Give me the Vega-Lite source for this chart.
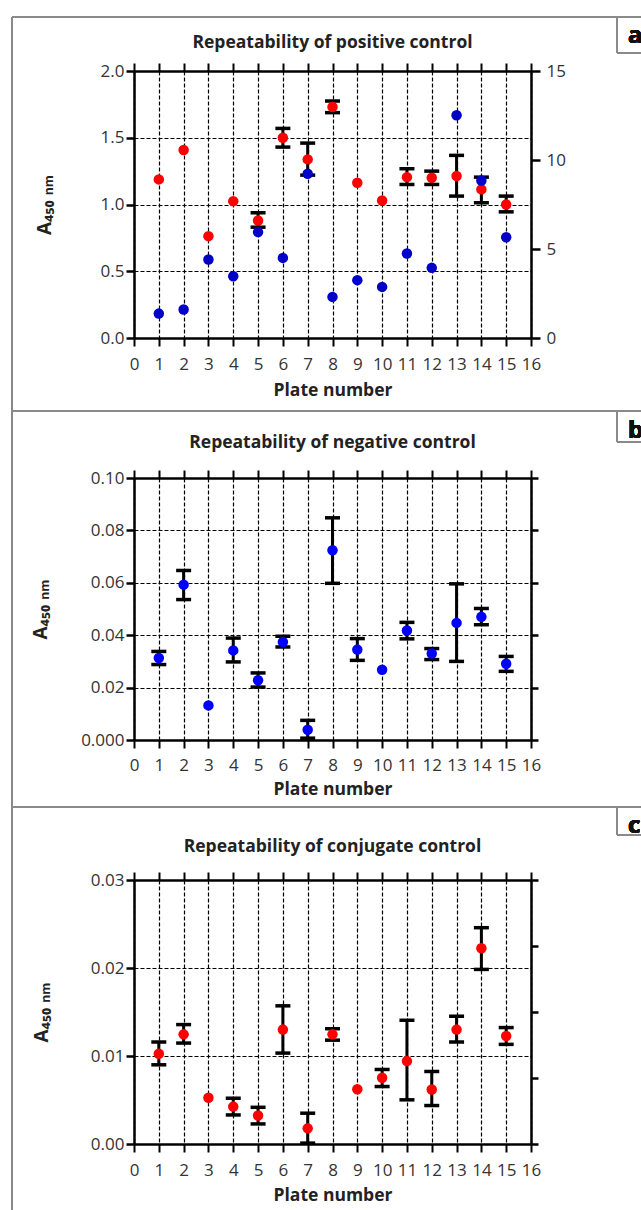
{
  "$schema": "https://vega.github.io/schema/vega-lite/v6.json",
  "background": "white",
  "padding": {"left": 10, "top": 15, "right": 0, "bottom": 0},
  "bounds": "flush",
  "spacing": 140,
  "config": {
    "view": {"stroke": null},
    "axis": {
      "domainColor": "black", "domainWidth": 2.5, "tickColor": "black", "tickWidth": 2.5, "tickSize": 8,
      "labelFont": "Open Sans", "labelFontSize": 17, "labelColor": "#333", "labelFlush": false, "labelOverlap": false,
      "gridColor": "black", "gridDash": [4, 2], "gridWidth": 1.2, "gridOpacity": 1,
      "titleFont": "Open Sans, DejaVu Sans", "titleFontSize": 17.5, "titleFontWeight": "bold", "titleColor": "#222"
    },
    "title": {"font": "Open Sans", "fontSize": 17.5, "fontWeight": "bold", "color": "#222", "frame": "group", "anchor": "middle"},
    "tick": {"opacity": 1}
  },
  "vconcat": [
    {
      "width": 397, "height": 267,
      "title": {"text": "Repeatability of positive control", "offset": -36},
      "data": {"values": [
        {"plate": 1, "mean": 1.188, "lo": null, "hi": null, "blue": 1.37},
        {"plate": 2, "mean": 1.408, "lo": null, "hi": null, "blue": 1.60},
        {"plate": 3, "mean": 0.763, "lo": null, "hi": null, "blue": 4.41},
        {"plate": 4, "mean": 1.025, "lo": null, "hi": null, "blue": 3.47},
        {"plate": 5, "mean": 0.88, "lo": 0.83, "hi": 0.938, "blue": 5.95},
        {"plate": 6, "mean": 1.50, "lo": 1.43, "hi": 1.57, "blue": 4.50},
        {"plate": 7, "mean": 1.338, "lo": 1.22, "hi": 1.46, "blue": 9.23},
        {"plate": 8, "mean": 1.73, "lo": 1.688, "hi": 1.775, "blue": 2.31},
        {"plate": 9, "mean": 1.163, "lo": null, "hi": null, "blue": 3.25},
        {"plate": 10, "mean": 1.03, "lo": null, "hi": null, "blue": 2.87},
        {"plate": 11, "mean": 1.205, "lo": 1.15, "hi": 1.268, "blue": 4.75},
        {"plate": 12, "mean": 1.20, "lo": 1.15, "hi": 1.25, "blue": 3.94},
        {"plate": 13, "mean": 1.213, "lo": 1.063, "hi": 1.368, "blue": 12.51},
        {"plate": 14, "mean": 1.113, "lo": 1.013, "hi": 1.205, "blue": 8.85},
        {"plate": 15, "mean": 1.0, "lo": 0.945, "hi": 1.063, "blue": 5.66}
      ]},
      "resolve": {"scale": {"x": "independent", "y": "independent"}, "axis": {"x": "independent", "y": "independent"}},
      "layer": [
        {"mark": {"type": "rule", "color": "black", "strokeWidth": 3},
         "encoding": {
           "x": {"field": "plate", "type": "quantitative", "scale": {"domain": [0, 16], "nice": false},
                 "axis": {"orient": "bottom", "values": [0,1,2,3,4,5,6,7,8,9,10,11,12,13,14,15,16], "format": "d", "grid": true, "title": "Plate number", "labelPadding": 10, "titlePadding": 9, "tickWidth": 2}},
           "y": {"field": "lo", "type": "quantitative", "scale": {"domain": [0, 2], "nice": false},
                 "axis": {"orient": "left", "values": [0, 0.5, 1, 1.5, 2], "format": ".1f", "grid": true, "title": "A₄₅₀ ₙₘ", "titleFontSize": 19, "titlePadding": 46, "labelPadding": 2}},
           "y2": {"field": "hi"}}},
        {"mark": {"type": "tick", "orient": "horizontal", "size": 15, "thickness": 3.5, "color": "black", "opacity": 1},
         "encoding": {
           "x": {"field": "plate", "type": "quantitative", "scale": {"domain": [0, 16], "nice": false}, "axis": null},
           "y": {"field": "lo", "type": "quantitative", "scale": {"domain": [0, 2], "nice": false}, "axis": null}}},
        {"mark": {"type": "tick", "orient": "horizontal", "size": 15, "thickness": 3.5, "color": "black", "opacity": 1},
         "encoding": {
           "x": {"field": "plate", "type": "quantitative", "scale": {"domain": [0, 16], "nice": false}, "axis": null},
           "y": {"field": "hi", "type": "quantitative", "scale": {"domain": [0, 2], "nice": false}, "axis": null}}},
        {"mark": {"type": "point", "filled": true, "size": 110, "color": "#ff0000", "opacity": 1},
         "encoding": {
           "x": {"field": "plate", "type": "quantitative", "scale": {"domain": [0, 16], "nice": false}, "axis": null},
           "y": {"field": "mean", "type": "quantitative", "scale": {"domain": [0, 2], "nice": false}, "axis": null}}},
        {"mark": {"type": "point", "filled": true, "size": 110, "color": "#0000c8", "opacity": 1},
         "encoding": {
           "x": {"field": "plate", "type": "quantitative", "scale": {"domain": [0, 16], "nice": false},
                 "axis": {"orient": "top", "values": [0,1,2,3,4,5,6,7,8,9,10,11,12,13,14,15,16], "labels": false, "grid": false, "title": null, "tickWidth": 2}},
           "y": {"field": "blue", "type": "quantitative", "scale": {"domain": [0, 15], "nice": false},
                 "axis": {"orient": "right", "values": [0, 5, 10, 15], "format": "d", "grid": false, "title": null, "tickSize": 9, "labelPadding": 6}}}},
        {"mark": {"type": "rule", "color": "#8a8a8a", "strokeWidth": 2},
         "encoding": {
           "x": {"datum": -4.917, "type": "quantitative", "scale": {"domain": [0, 16], "nice": false}, "axis": null},
           "x2": {"datum": 20.43},
           "y": {"datum": 2.4045, "type": "quantitative", "scale": {"domain": [0, 2], "nice": false}, "axis": null}}},
        {"mark": {"type": "rule", "color": "#8a8a8a", "strokeWidth": 2},
         "encoding": {
           "x": {"datum": -4.917, "type": "quantitative", "scale": {"domain": [0, 16], "nice": false}, "axis": null},
           "y": {"datum": 2.4045, "type": "quantitative", "scale": {"domain": [0, 2], "nice": false}, "axis": null},
           "y2": {"datum": -0.5468}}},
        {"mark": {"type": "rule", "color": "#8a8a8a", "strokeWidth": 1.5},
         "encoding": {
           "x": {"datum": 19.466, "type": "quantitative", "scale": {"domain": [0, 16], "nice": false}, "axis": null},
           "y": {"datum": 2.4045, "type": "quantitative", "scale": {"domain": [0, 2], "nice": false}, "axis": null},
           "y2": {"datum": 2.1348}}},
        {"mark": {"type": "rule", "color": "#8a8a8a", "strokeWidth": 1.5},
         "encoding": {
           "x": {"datum": 19.466, "type": "quantitative", "scale": {"domain": [0, 16], "nice": false}, "axis": null},
           "x2": {"datum": 20.43},
           "y": {"datum": 2.1348, "type": "quantitative", "scale": {"domain": [0, 2], "nice": false}, "axis": null}}},
        {"mark": {"type": "text", "align": "left", "baseline": "middle", "font": "Open Sans", "fontSize": 24, "fontWeight": "bold", "color": "#111"},
         "encoding": {
           "x": {"datum": 19.91, "type": "quantitative", "scale": {"domain": [0, 16], "nice": false}, "axis": null},
           "y": {"datum": 2.262, "type": "quantitative", "scale": {"domain": [0, 2], "nice": false}, "axis": null},
           "text": {"datum": "a"}}}
      ]
    },
    {
      "width": 397, "height": 262,
      "title": {"text": "Repeatability of negative control", "offset": -41},
      "data": {"values": [
        {"plate": 1, "mean": 0.0313, "lo": 0.0288, "hi": 0.0338},
        {"plate": 2, "mean": 0.0593, "lo": 0.0536, "hi": 0.0647},
        {"plate": 3, "mean": 0.0132, "lo": null, "hi": null},
        {"plate": 4, "mean": 0.0342, "lo": 0.0298, "hi": 0.0389},
        {"plate": 5, "mean": 0.0228, "lo": 0.0202, "hi": 0.0256},
        {"plate": 6, "mean": 0.0374, "lo": 0.0355, "hi": 0.0396},
        {"plate": 7, "mean": 0.0039, "lo": 0.0007, "hi": 0.0075},
        {"plate": 8, "mean": 0.0724, "lo": 0.0598, "hi": 0.0848},
        {"plate": 9, "mean": 0.0345, "lo": 0.0304, "hi": 0.0387},
        {"plate": 10, "mean": 0.0268, "lo": null, "hi": null},
        {"plate": 11, "mean": 0.0418, "lo": 0.0386, "hi": 0.0449},
        {"plate": 12, "mean": 0.033, "lo": 0.0307, "hi": 0.0349},
        {"plate": 13, "mean": 0.0447, "lo": 0.030, "hi": 0.0596},
        {"plate": 14, "mean": 0.047, "lo": 0.044, "hi": 0.0502},
        {"plate": 15, "mean": 0.0291, "lo": 0.0262, "hi": 0.0319}
      ]},
      "resolve": {"scale": {"x": "independent", "y": "independent"}, "axis": {"x": "independent", "y": "independent"}},
      "layer": [
        {"mark": {"type": "rule", "color": "black", "strokeWidth": 3},
         "encoding": {
           "x": {"field": "plate", "type": "quantitative", "scale": {"domain": [0, 16], "nice": false},
                 "axis": {"orient": "bottom", "values": [0,1,2,3,4,5,6,7,8,9,10,11,12,13,14,15,16], "format": "d", "grid": true, "title": "Plate number", "labelPadding": 9, "titlePadding": 7, "tickWidth": 2}},
           "y": {"field": "lo", "type": "quantitative", "scale": {"domain": [0, 0.1], "nice": false},
                 "axis": {"orient": "left", "values": [0, 0.02, 0.04, 0.06, 0.08, 0.1], "labelExpr": "datum.value == 0 ? '0.000' : format(datum.value, '.2f')", "grid": true, "title": "A₄₅₀ ₙₘ", "titleFontSize": 19, "titlePadding": 30, "labelPadding": 2}},
           "y2": {"field": "hi"}}},
        {"mark": {"type": "tick", "orient": "horizontal", "size": 15, "thickness": 3.5, "color": "black", "opacity": 1},
         "encoding": {
           "x": {"field": "plate", "type": "quantitative", "scale": {"domain": [0, 16], "nice": false}, "axis": null},
           "y": {"field": "lo", "type": "quantitative", "scale": {"domain": [0, 0.1], "nice": false}, "axis": null}}},
        {"mark": {"type": "tick", "orient": "horizontal", "size": 15, "thickness": 3.5, "color": "black", "opacity": 1},
         "encoding": {
           "x": {"field": "plate", "type": "quantitative", "scale": {"domain": [0, 16], "nice": false}, "axis": null},
           "y": {"field": "hi", "type": "quantitative", "scale": {"domain": [0, 0.1], "nice": false}, "axis": null}}},
        {"mark": {"type": "point", "filled": true, "size": 110, "color": "#0000ff", "opacity": 1},
         "encoding": {
           "x": {"field": "plate", "type": "quantitative", "scale": {"domain": [0, 16], "nice": false},
                 "axis": {"orient": "top", "values": [0,1,2,3,4,5,6,7,8,9,10,11,12,13,14,15,16], "labels": false, "grid": false, "title": null, "tickWidth": 2}},
           "y": {"field": "mean", "type": "quantitative", "scale": {"domain": [0, 0.1], "nice": false},
                 "axis": {"orient": "right", "values": [0, 0.02, 0.04, 0.06, 0.08, 0.1], "labels": false, "grid": false, "title": null, "tickSize": 7}}}},
        {"mark": {"type": "rule", "color": "#8a8a8a", "strokeWidth": 2},
         "encoding": {
           "x": {"datum": -4.917, "type": "quantitative", "scale": {"domain": [0, 16], "nice": false}, "axis": null},
           "x2": {"datum": 20.43},
           "y": {"datum": 0.12557, "type": "quantitative", "scale": {"domain": [0, 0.1], "nice": false}, "axis": null}}},
        {"mark": {"type": "rule", "color": "#8a8a8a", "strokeWidth": 2},
         "encoding": {
           "x": {"datum": -4.917, "type": "quantitative", "scale": {"domain": [0, 16], "nice": false}, "axis": null},
           "y": {"datum": 0.12557, "type": "quantitative", "scale": {"domain": [0, 0.1], "nice": false}, "axis": null},
           "y2": {"datum": -0.02557}}},
        {"mark": {"type": "rule", "color": "#8a8a8a", "strokeWidth": 1.5},
         "encoding": {
           "x": {"datum": 19.466, "type": "quantitative", "scale": {"domain": [0, 16], "nice": false}, "axis": null},
           "y": {"datum": 0.12557, "type": "quantitative", "scale": {"domain": [0, 0.1], "nice": false}, "axis": null},
           "y2": {"datum": 0.11374}}},
        {"mark": {"type": "rule", "color": "#8a8a8a", "strokeWidth": 1.5},
         "encoding": {
           "x": {"datum": 19.466, "type": "quantitative", "scale": {"domain": [0, 16], "nice": false}, "axis": null},
           "x2": {"datum": 20.43},
           "y": {"datum": 0.11374, "type": "quantitative", "scale": {"domain": [0, 0.1], "nice": false}, "axis": null}}},
        {"mark": {"type": "text", "align": "left", "baseline": "middle", "font": "Open Sans", "fontSize": 24, "fontWeight": "bold", "color": "#111"},
         "encoding": {
           "x": {"datum": 19.91, "type": "quantitative", "scale": {"domain": [0, 16], "nice": false}, "axis": null},
           "y": {"datum": 0.11794, "type": "quantitative", "scale": {"domain": [0, 0.1], "nice": false}, "axis": null},
           "text": {"datum": "b"}}}
      ]
    },
    {
      "width": 397, "height": 264,
      "title": {"text": "Repeatability of conjugate control", "offset": -49},
      "data": {"values": [
        {"plate": 1, "mean": 0.01026, "lo": 0.0090, "hi": 0.01159},
        {"plate": 2, "mean": 0.01246, "lo": 0.01147, "hi": 0.01357},
        {"plate": 3, "mean": 0.00525, "lo": null, "hi": null},
        {"plate": 4, "mean": 0.00425, "lo": 0.0033, "hi": 0.0052},
        {"plate": 5, "mean": 0.00323, "lo": 0.00228, "hi": 0.00417},
        {"plate": 6, "mean": 0.0130, "lo": 0.01033, "hi": 0.0157},
        {"plate": 7, "mean": 0.00178, "lo": 0.0001, "hi": 0.0035},
        {"plate": 8, "mean": 0.01246, "lo": 0.0118, "hi": 0.0131},
        {"plate": 9, "mean": 0.00623, "lo": null, "hi": null},
        {"plate": 10, "mean": 0.00753, "lo": 0.00653, "hi": 0.00847},
        {"plate": 11, "mean": 0.00942, "lo": 0.00502, "hi": 0.01406},
        {"plate": 12, "mean": 0.0062, "lo": 0.00437, "hi": 0.00824},
        {"plate": 13, "mean": 0.0130, "lo": 0.01159, "hi": 0.01452},
        {"plate": 14, "mean": 0.02224, "lo": 0.01984, "hi": 0.02458},
        {"plate": 15, "mean": 0.01227, "lo": 0.01132, "hi": 0.01323}
      ]},
      "resolve": {"scale": {"x": "independent", "y": "independent"}, "axis": {"x": "independent", "y": "independent"}},
      "layer": [
        {"mark": {"type": "rule", "color": "black", "strokeWidth": 3},
         "encoding": {
           "x": {"field": "plate", "type": "quantitative", "scale": {"domain": [0, 16], "nice": false},
                 "axis": {"orient": "bottom", "values": [0,1,2,3,4,5,6,7,8,9,10,11,12,13,14,15,16], "format": "d", "grid": true, "title": "Plate number", "labelPadding": 10, "titlePadding": 8, "tickWidth": 2}},
           "y": {"field": "lo", "type": "quantitative", "scale": {"domain": [0, 0.03], "nice": false},
                 "axis": {"orient": "left", "values": [0, 0.01, 0.02, 0.03], "format": ".2f", "grid": true, "title": "A₄₅₀ ₙₘ", "titleFontSize": 19, "titlePadding": 39, "labelPadding": 2}},
           "y2": {"field": "hi"}}},
        {"mark": {"type": "tick", "orient": "horizontal", "size": 15, "thickness": 3.5, "color": "black", "opacity": 1},
         "encoding": {
           "x": {"field": "plate", "type": "quantitative", "scale": {"domain": [0, 16], "nice": false}, "axis": null},
           "y": {"field": "lo", "type": "quantitative", "scale": {"domain": [0, 0.03], "nice": false}, "axis": null}}},
        {"mark": {"type": "tick", "orient": "horizontal", "size": 15, "thickness": 3.5, "color": "black", "opacity": 1},
         "encoding": {
           "x": {"field": "plate", "type": "quantitative", "scale": {"domain": [0, 16], "nice": false}, "axis": null},
           "y": {"field": "hi", "type": "quantitative", "scale": {"domain": [0, 0.03], "nice": false}, "axis": null}}},
        {"mark": {"type": "point", "filled": true, "size": 110, "color": "#ff0000", "opacity": 1},
         "encoding": {
           "x": {"field": "plate", "type": "quantitative", "scale": {"domain": [0, 16], "nice": false},
                 "axis": {"orient": "top", "values": [0,1,2,3,4,5,6,7,8,9,10,11,12,13,14,15,16], "labels": false, "grid": false, "title": null, "tickWidth": 2}},
           "y": {"field": "mean", "type": "quantitative", "scale": {"domain": [0, 0.03], "nice": false}, "axis": null}}},
        {"mark": {"type": "point", "opacity": 0},
         "encoding": {
           "x": {"datum": 0, "type": "quantitative", "scale": {"domain": [0, 16], "nice": false}, "axis": null},
           "y": {"datum": 0, "type": "quantitative", "scale": {"domain": [0, 4], "nice": false},
                 "axis": {"orient": "right", "values": [0, 1, 2, 3, 4], "labels": false, "grid": false, "title": null, "tickSize": 7}}}},
        {"mark": {"type": "rule", "color": "#8a8a8a", "strokeWidth": 2},
         "encoding": {
           "x": {"datum": -4.917, "type": "quantitative", "scale": {"domain": [0, 16], "nice": false}, "axis": null},
           "x2": {"datum": 20.43},
           "y": {"datum": 0.038295, "type": "quantitative", "scale": {"domain": [0, 0.03], "nice": false}, "axis": null}}},
        {"mark": {"type": "rule", "color": "#8a8a8a", "strokeWidth": 2},
         "encoding": {
           "x": {"datum": -4.917, "type": "quantitative", "scale": {"domain": [0, 16], "nice": false}, "axis": null},
           "y": {"datum": 0.038295, "type": "quantitative", "scale": {"domain": [0, 0.03], "nice": false}, "axis": null},
           "y2": {"datum": -0.0075}}},
        {"mark": {"type": "rule", "color": "#8a8a8a", "strokeWidth": 1.5},
         "encoding": {
           "x": {"datum": 19.466, "type": "quantitative", "scale": {"domain": [0, 16], "nice": false}, "axis": null},
           "y": {"datum": 0.038295, "type": "quantitative", "scale": {"domain": [0, 0.03], "nice": false}, "axis": null},
           "y2": {"datum": 0.035114}}},
        {"mark": {"type": "rule", "color": "#8a8a8a", "strokeWidth": 1.5},
         "encoding": {
           "x": {"datum": 19.466, "type": "quantitative", "scale": {"domain": [0, 16], "nice": false}, "axis": null},
           "x2": {"datum": 20.43},
           "y": {"datum": 0.035114, "type": "quantitative", "scale": {"domain": [0, 0.03], "nice": false}, "axis": null}}},
        {"mark": {"type": "text", "align": "left", "baseline": "middle", "font": "Open Sans", "fontSize": 24, "fontWeight": "bold", "color": "#111"},
         "encoding": {
           "x": {"datum": 19.91, "type": "quantitative", "scale": {"domain": [0, 16], "nice": false}, "axis": null},
           "y": {"datum": 0.036136, "type": "quantitative", "scale": {"domain": [0, 0.03], "nice": false}, "axis": null},
           "text": {"datum": "c"}}}
      ]
    }
  ]
}
